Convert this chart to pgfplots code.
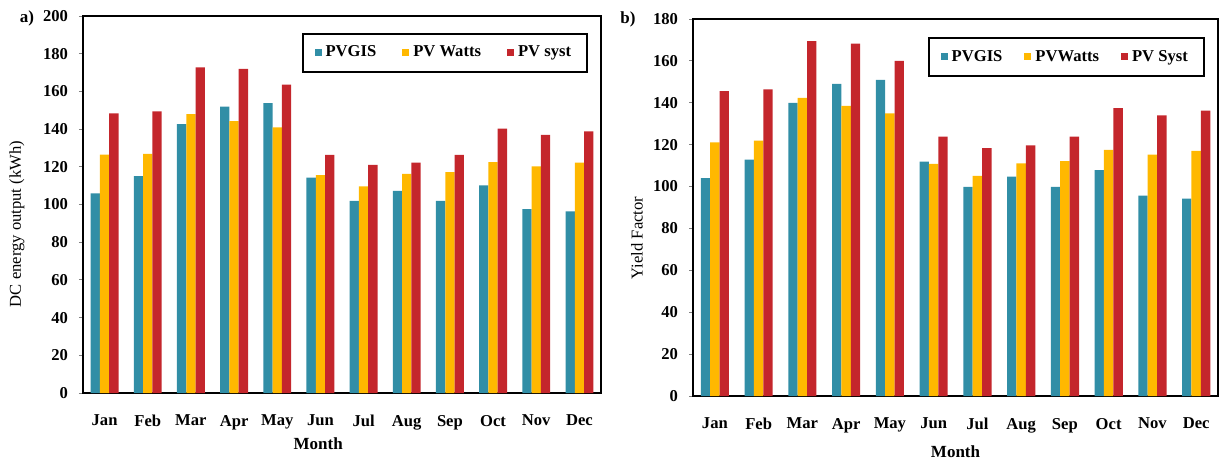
\documentclass[border=0pt]{standalone}
\usepackage{fontspec}
\setmainfont{Liberation Serif}
\usepackage{pgfplots}
\pgfplotsset{compat=1.18}
\definecolor{cB}{RGB}{49,142,166}
\definecolor{cY}{RGB}{255,184,0}
\definecolor{cR}{RGB}{196,38,44}
\newcommand{\fs}{\fontsize{8.3}{10}\selectfont}
\pgfplotsset{
  mybar/.style={
    scale only axis, ymin=0, xmin=-0.5, xmax=11.5,
    xtick={0,...,11},
    xticklabels={Jan,Feb,Mar,Apr,May,Jun,Jul,Aug,Sep,Oct,Nov,Dec},
    ybar, bar width=0.215,
    tick align=outside, ytick pos=left, xtick pos=bottom,
    xtick style={draw=none},
    ytick style={gray, line width=0.5pt},
    major tick length=2pt,
    axis line style={line width=1.1pt},
    ticklabel style={font=\fs\bfseries},
    /pgf/number format/assume math mode=true,
    xticklabel style={yshift=-5.5pt},
    yticklabel style={xshift=-2pt},
    legend columns=3,
    legend image code/.code={\fill[##1] (0pt,-1.6pt) rectangle (3.5pt,1.9pt);},
    legend style={draw=black, line width=1pt, font=\fs\bfseries,
      anchor=north east, inner xsep=6pt, inner ysep=4pt},
  }
}
\begin{document}
\begin{tikzpicture}
\useasboundingbox (0,0) rectangle (612.5pt,231pt);
\begin{axis}[mybar,
  at={(41.5pt,34.5pt)}, anchor=south west, width=259pt, height=188.5pt,
  ymax=200, ytick={0,20,...,200},
  xlabel={Month}, ylabel={DC energy output (kWh)},
  every axis x label/.style={at={(axis description cs:0.454,-0.135)}, anchor=center, font=\fontsize{8.5}{10}\selectfont\bfseries},
  every axis y label/.style={at={(axis description cs:-0.1274,0.448)}, rotate=90, anchor=center, font=\fs},
  legend style={at={(0.975,0.955)}, /tikz/every even column/.append style={column sep=11pt}},
]
\addplot[fill=cB, draw=none, bar shift=-0.215] coordinates {(0,105.9) (1,115.1) (2,142.7) (3,151.9) (4,153.8) (5,114.2) (6,101.9) (7,107.2) (8,101.9) (9,110.2) (10,97.6) (11,96.4)};
\addplot[fill=cY, draw=none, bar shift=0] coordinates {(0,126.4) (1,126.8) (2,148) (3,144.3) (4,140.9) (5,115.6) (6,109.6) (7,116.2) (8,117.2) (9,122.5) (10,120.2) (11,122.2)};
\addplot[fill=cR, draw=none, bar shift=0.215] coordinates {(0,148.4) (1,149.4) (2,172.8) (3,172) (4,163.6) (5,126.3) (6,121) (7,122.2) (8,126.3) (9,140.2) (10,136.9) (11,138.8)};
\legend{PVGIS, PV Watts, PV syst}
\end{axis}
\begin{axis}[mybar,
  at={(346.5pt,33pt)}, anchor=south west, width=262.5pt, height=188.5pt,
  ymax=180, ytick={0,20,...,180},
  xlabel={Month}, ylabel={Yield Factor},
  every axis x label/.style={at={(axis description cs:0.5,-0.1485)}, anchor=center, font=\fontsize{8.5}{10}\selectfont\bfseries},
  every axis y label/.style={at={(axis description cs:-0.1067,0.419)}, rotate=90, anchor=center, font=\fs},
  legend style={at={(0.975,0.952)}, /tikz/every even column/.append style={column sep=9pt}},
]
\addplot[fill=cB, draw=none, bar shift=-0.215] coordinates {(0,104) (1,112.9) (2,139.9) (3,149) (4,150.9) (5,111.9) (6,99.8) (7,104.7) (8,99.8) (9,107.8) (10,95.7) (11,94.2)};
\addplot[fill=cY, draw=none, bar shift=0] coordinates {(0,121.1) (1,121.9) (2,142.3) (3,138.5) (4,135) (5,110.8) (6,105.1) (7,111.1) (8,112.2) (9,117.5) (10,115.2) (11,117)};
\addplot[fill=cR, draw=none, bar shift=0.215] coordinates {(0,145.6) (1,146.4) (2,169.4) (3,168.3) (4,160) (5,123.8) (6,118.3) (7,119.7) (8,123.8) (9,137.4) (10,134) (11,136.3)};
\legend{PVGIS, PVWatts, PV Syst}
\end{axis}
\node[font=\fontsize{8.5}{10}\selectfont\bfseries] at (13.5pt,222pt) {a)};
\node[font=\fontsize{8.5}{10}\selectfont\bfseries] at (314pt,221.5pt) {b)};
\end{tikzpicture}
\end{document}
